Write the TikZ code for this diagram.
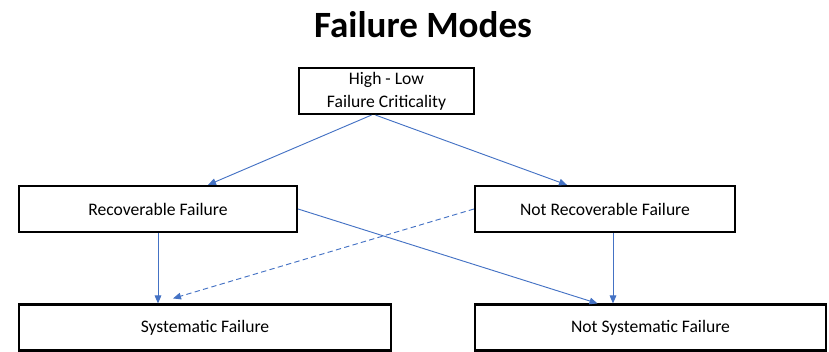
\documentclass[tikz,border=0pt]{standalone}
\usepackage{fontspec}
\setmainfont{Carlito}
\usetikzlibrary{arrows.meta,calc}
\definecolor{linkblue}{HTML}{4472C4}

\begin{document}
\begin{tikzpicture}[x=0.75pt, y=-0.75pt,
      box/.style={draw=black, line width=1.6pt, minimum height=34.5pt, align=center,
                  font=\fontsize{13.2}{16.5}\selectfont, inner sep=0pt},
      link/.style={draw=linkblue, line width=0.7pt, -{Triangle[length=6pt,width=5pt]}}]
    \useasboundingbox (0,0) rectangle (829,352);
    \node[font=\fontsize{27.8}{30}\selectfont\bfseries] (title) at (423,25) {Failure Modes};
    \node[box, minimum width=131.25pt] (top)  at (386.5,91)  {High - Low\\[1pt]Failure Criticality};
    \node[box, minimum width=208.5pt]  (rec)  at (158,209)   {Recoverable Failure};
    \node[box, minimum width=195pt]    (nrec) at (605,209)   {Not Recoverable Failure};
    \node[box, minimum width=279pt]    (sys)  at (205,327.5) {Systematic Failure};
    \node[box, minimum width=263.25pt] (nsys) at (650.5,327.5) {Not Systematic Failure};
    % links
    \draw[link] ($(top.south)+(-15,0)$) -- ($(rec.north)+(50,0)$);
    \draw[link] ($(top.south)+(-11,0)$) -- ($(nrec.north)+(-38,0)$);
    \draw[link] (rec.south) -- (rec.south |- sys.north);
    \draw[link] (rec.east) -- ($(nsys.north)+(-53,0)$);
    \draw[link] ($(nrec.south)+(8,0)$) -- ($(nrec.south |- nsys.north)+(8,0)$);
    \draw[link, dash pattern=on 4pt off 2.5pt] (nrec.west) -- ($(sys.north)+(-32,-5)$);
  \end{tikzpicture}
\end{document}
